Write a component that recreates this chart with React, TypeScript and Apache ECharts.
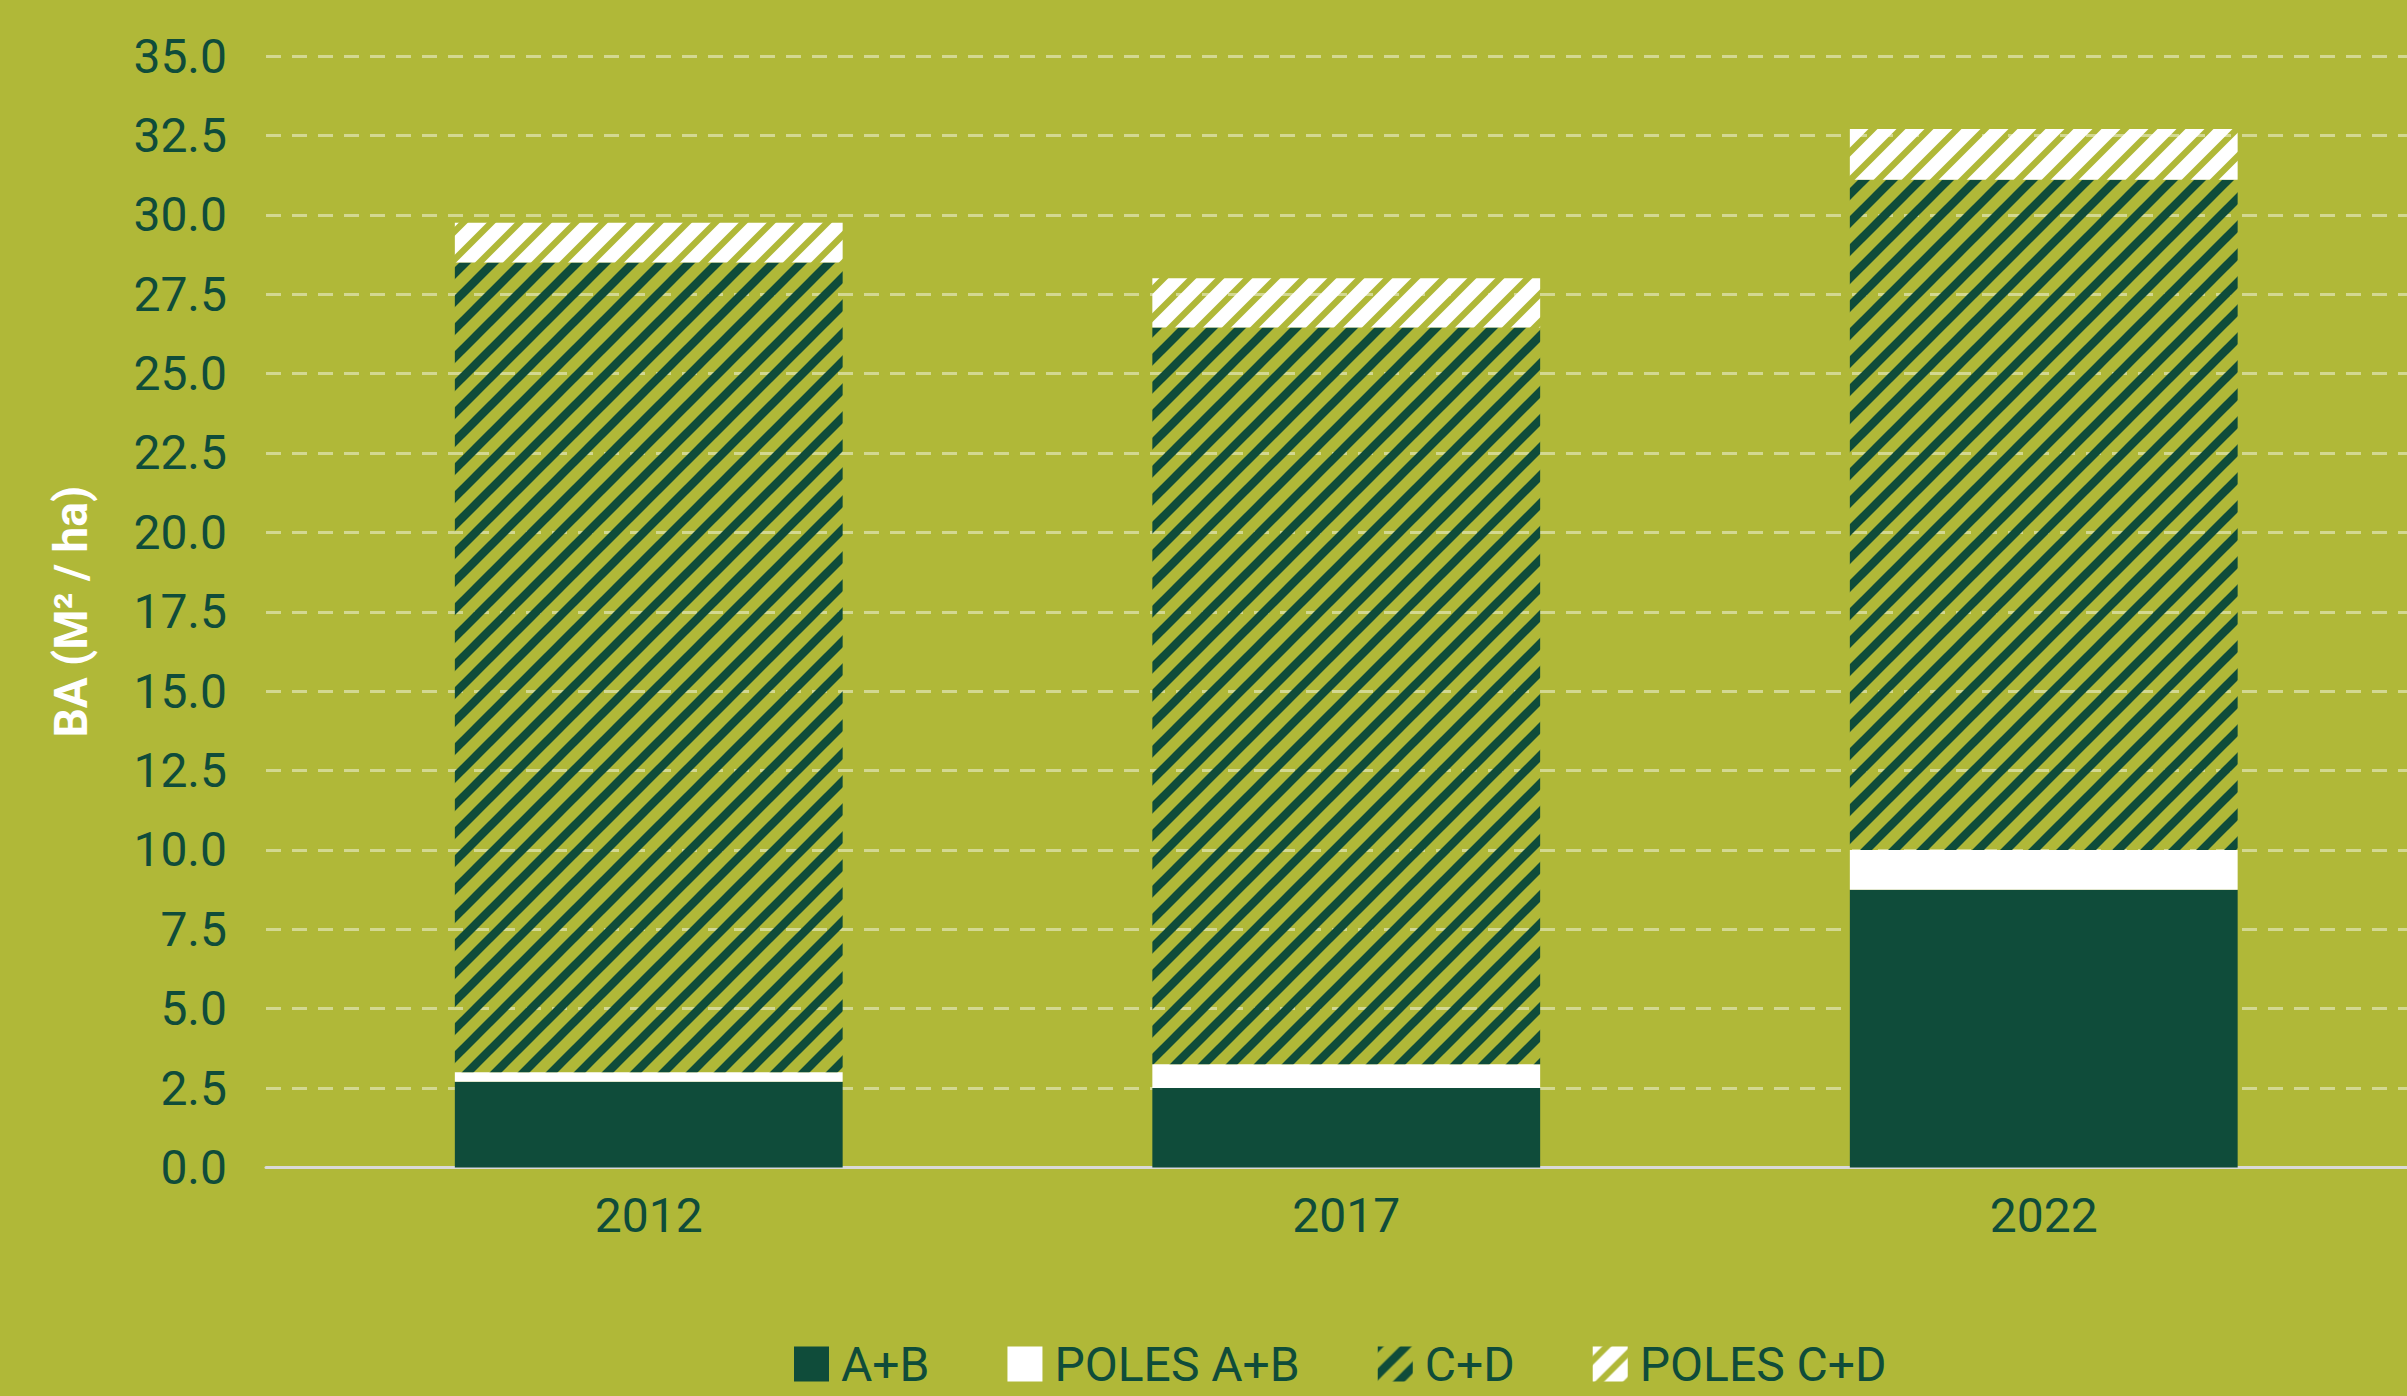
import React, { useEffect, useRef } from "react";
import * as echarts from "echarts";

const categories = ["2012", "2017", "2022"];
const abValues = [2.7, 2.5, 8.75];
const polesAbValues = [0.3, 0.75, 1.25];
const cdValues = [25.5, 23.2, 21.1];
const polesCdValues = [1.25, 1.55, 1.6];
const seriesNames = ["A+B", "POLES A+B", "C+D", "POLES C+D"];

const BG = "#b0b838";
const DARK = "#0f4c3a";
const FONT = "Roboto";

function stripeCanvas(color: string, lineWidth: number) {
  const c = document.createElement("canvas");
  c.width = 28;
  c.height = 28;
  const ctx = c.getContext("2d")!;
  ctx.strokeStyle = color;
  ctx.lineWidth = lineWidth;
  ctx.lineCap = "square";
  for (const k of [0, 28, 56]) {
    ctx.beginPath();
    ctx.moveTo(k + 14, -14);
    ctx.lineTo(k - 42, 42);
    ctx.stroke();
  }
  return c;
}

export default function App() {
  const ref = useRef<HTMLDivElement>(null);
  useEffect(() => {
    if (!ref.current) return;
    const chart = echarts.init(ref.current, undefined, { renderer: "svg" });
    const darkStripes = stripeCanvas(DARK, 8.4);
    const whiteStripes = stripeCanvas("#ffffff", 13.4);
    const common = {
      type: "bar" as const,
      stack: "total",
      xAxisIndex: 1,
      yAxisIndex: 1,
      barWidth: "55.6%",
    };
    chart.setOption({
      animation: false,
      backgroundColor: BG,
      grid: [
        { left: 266, right: 0, top: 56, bottom: 228.5 },
        { left: 300, right: 14.5, top: 56, bottom: 228.5 },
      ],
      legend: {
        data: seriesNames,
        left: 789,
        top: 1335,
        icon: "rect",
        itemWidth: 35,
        itemHeight: 35,
        itemGap: 78,
        textStyle: {
          color: DARK,
          fontFamily: FONT,
          fontSize: 48,
          padding: [0, 0, 0, 7],
        },
      },
      xAxis: [
        {
          type: "category",
          gridIndex: 0,
          data: categories,
          axisLabel: { show: false },
          axisTick: { show: false },
          axisLine: { show: true, lineStyle: { color: "#d9d9d9", width: 3 } },
        },
        {
          type: "category",
          gridIndex: 1,
          data: categories,
          axisTick: { show: false },
          axisLine: { show: false },
          axisLabel: {
            color: DARK,
            fontFamily: FONT,
            fontSize: 48,
            margin: 24,
          },
        },
      ],
      yAxis: [
        {
          type: "value",
          gridIndex: 0,
          min: 0,
          max: 35,
          interval: 2.5,
          name: "BA (M² / ha)",
          nameLocation: "middle",
          nameGap: 172,
          nameTextStyle: {
            color: "#ffffff",
            fontFamily: FONT,
            fontWeight: "bold",
            fontSize: 46,
          },
          axisLine: { show: false },
          axisTick: { show: false },
          axisLabel: {
            color: DARK,
            fontFamily: FONT,
            fontSize: 48,
            margin: 39,
            formatter: (v: number) => v.toFixed(1),
          },
          splitLine: {
            show: true,
            lineStyle: {
              color: "rgba(255,255,255,0.45)",
              width: 3,
              type: [15, 11],
            },
          },
        },
        {
          type: "value",
          gridIndex: 1,
          min: 0,
          max: 35,
          interval: 2.5,
          show: false,
          splitLine: { show: false },
        },
      ],
      series: [
        { ...common, name: seriesNames[0], data: abValues, itemStyle: { color: DARK } },
        { ...common, name: seriesNames[1], data: polesAbValues, itemStyle: { color: "#ffffff" } },
        {
          ...common,
          name: seriesNames[2],
          data: cdValues,
          itemStyle: { color: { image: darkStripes, repeat: "repeat" } },
        },
        {
          ...common,
          name: seriesNames[3],
          data: polesCdValues,
          itemStyle: { color: { image: whiteStripes, repeat: "repeat" } },
        },
      ],
    });
    return () => chart.dispose();
  }, []);
  return (
    <div
      ref={ref}
      style={{ position: "fixed", left: 0, top: 0, width: 2407, height: 1396 }}
    />
  );
}
